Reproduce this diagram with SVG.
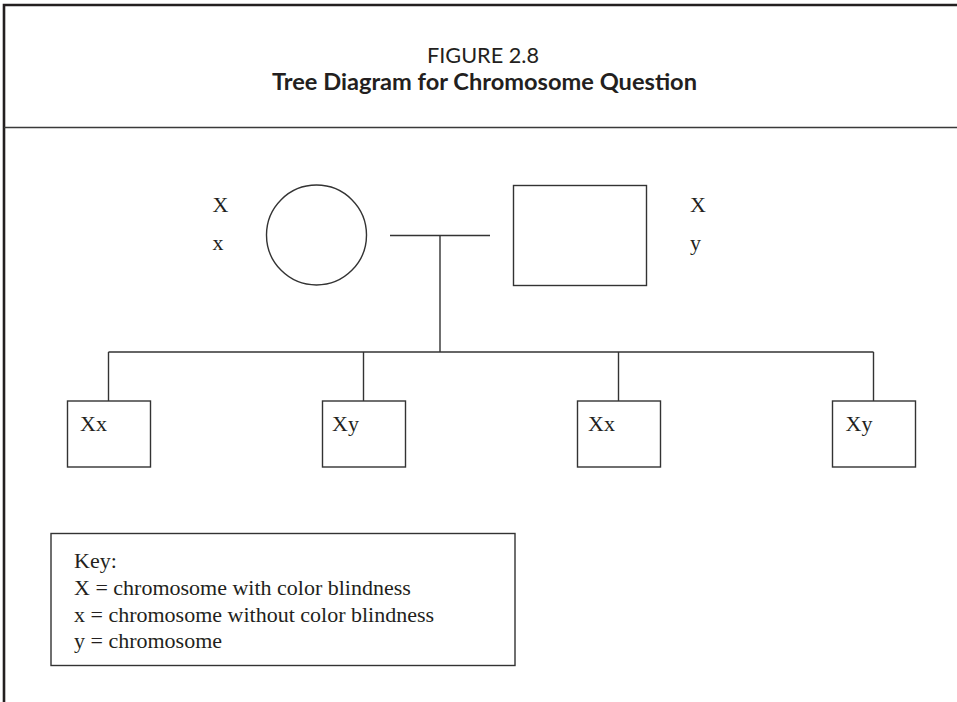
<svg xmlns="http://www.w3.org/2000/svg" width="957" height="702" viewBox="0 0 957 702">
  <style>
    .frame { stroke: #231f20; stroke-width: 2.6; fill: none; }
    .rule { stroke: #3a3a3a; stroke-width: 1.6; fill: none; }
    .shape { stroke: #333; stroke-width: 1.4; fill: #fff; }
    .link { stroke: #333; stroke-width: 1.4; fill: none; }
    .lbl { font-family: "Liberation Serif", "Times New Roman", serif; font-size: 22px; fill: #231f20; }
    .title { font-family: Lato, "Open Sans", sans-serif; font-size: 22px; fill: #231f20; text-anchor: start; }
    .title-b { font-weight: bold; }
  </style>

  <rect width="957" height="702" fill="#fff"/>

  <!-- page frame: top and left rules, heading separator -->
  <g id="frame">
    <path class="frame" d="M4 702 V5 H957"/>
    <line class="rule" x1="4" y1="127.5" x2="957" y2="127.5"/>
  </g>

  <!-- heading -->
  <g id="heading">
    <text class="title" x="427" y="63" textLength="112" lengthAdjust="spacingAndGlyphs">FIGURE 2.8</text>
    <text class="title title-b" x="272" y="90" textLength="425" lengthAdjust="spacingAndGlyphs">Tree Diagram for Chromosome Question</text>
  </g>

  <!-- connectors -->
  <g id="connectors">
    <line class="link" x1="390" y1="235.5" x2="490" y2="235.5"/>
    <line class="link" x1="440" y1="235.5" x2="440" y2="352"/>
    <line class="link" x1="108.5" y1="352" x2="873.5" y2="352"/>
    <line class="link" x1="108.5" y1="352" x2="108.5" y2="401"/>
    <line class="link" x1="363.5" y1="352" x2="363.5" y2="401"/>
    <line class="link" x1="618.5" y1="352" x2="618.5" y2="401"/>
    <line class="link" x1="873.5" y1="352" x2="873.5" y2="401"/>
  </g>

  <!-- parents -->
  <g id="mother">
    <circle class="shape" cx="316.5" cy="235" r="50"/>
    <text class="lbl" x="212.5" y="212">X</text>
    <text class="lbl" x="212.5" y="250">x</text>
  </g>
  <g id="father">
    <rect class="shape" x="513.5" y="185.5" width="133" height="100"/>
    <text class="lbl" x="690" y="212">X</text>
    <text class="lbl" x="690" y="250">y</text>
  </g>

  <!-- offspring -->
  <g id="child1">
    <rect class="shape" x="67.5" y="401" width="83" height="66"/>
    <text class="lbl" x="80" y="431">Xx</text>
  </g>
  <g id="child2">
    <rect class="shape" x="322.5" y="401" width="83" height="66"/>
    <text class="lbl" x="332" y="431">Xy</text>
  </g>
  <g id="child3">
    <rect class="shape" x="577.5" y="401" width="83" height="66"/>
    <text class="lbl" x="588" y="431">Xx</text>
  </g>
  <g id="child4">
    <rect class="shape" x="832.5" y="401" width="83" height="66"/>
    <text class="lbl" x="845.5" y="431">Xy</text>
  </g>

  <!-- legend -->
  <g id="key">
    <rect class="shape" x="51" y="533.5" width="464" height="132"/>
    <text class="lbl" x="74" y="568">Key:</text>
    <text class="lbl" x="74" y="595">X = chromosome with color blindness</text>
    <text class="lbl" x="74" y="622">x = chromosome without color blindness</text>
    <text class="lbl" x="74" y="648">y = chromosome</text>
  </g>
</svg>
